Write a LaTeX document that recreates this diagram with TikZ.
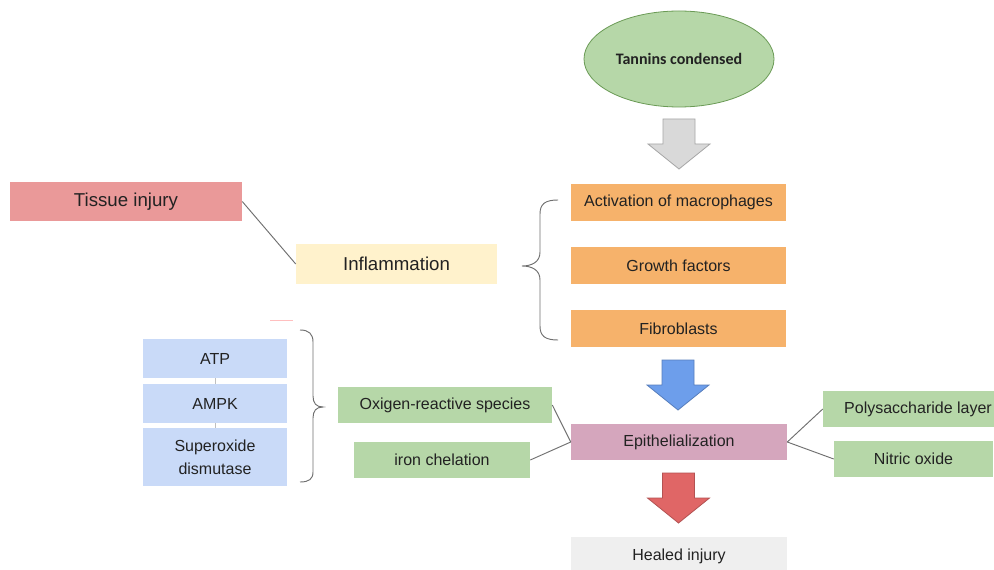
\documentclass[tikz,border=0pt]{standalone}
\usepackage{fontspec}
\setmainfont{Liberation Sans}
\newfontfamily\calibrifont{Carlito}
\usepackage{tikz}
\usetikzlibrary{shapes.geometric, positioning, calc}
\definecolor{LeafGreen}{HTML}{B6D7A8}
\definecolor{LeafEdge}{HTML}{6A9A55}
\definecolor{InjuryRed}{HTML}{EA9999}
\definecolor{CreamYellow}{HTML}{FFF2CC}
\definecolor{SoftOrange}{HTML}{F6B26B}
\definecolor{MauvePink}{HTML}{D5A6BD}
\definecolor{PaleBlue}{HTML}{C9DAF8}
\definecolor{PaleGray}{HTML}{EFEFEF}
\definecolor{ArrowGray}{HTML}{D9D9D9}
\definecolor{ArrowBlue}{HTML}{6D9EEB}
\definecolor{ArrowRed}{HTML}{E06666}
\definecolor{InkGray}{HTML}{222222}
\definecolor{LineGray}{HTML}{6F6F6F}

\tikzset{
    box/.style={rectangle, inner sep=0pt, text=InkGray, align=center,
                font=\fontsize{12}{17}\selectfont},
    bigbox/.style={box, font=\fontsize{14}{17}\selectfont},
    link/.style={draw=LineGray, line width=0.7pt},
    blockdown/.pic={
        \path[pic actions] (-16,0) -- (16,0) -- (16,25) -- (31,25)
            -- (0,50) -- (-31,25) -- (-16,25) -- cycle;
    }
}

\begin{document}
\begin{tikzpicture}[x=0.75pt, y=-0.75pt]
    \fill[white] (0,0) rectangle (994,570);
    \useasboundingbox (0,0) rectangle (994,570);

    % source
    \node[ellipse, draw=LeafEdge, line width=0.6pt, fill=LeafGreen, inner sep=0pt,
          minimum width=142.5pt, minimum height=72pt, text=InkGray,
          font=\calibrifont\bfseries\fontsize{12}{14}\selectfont] (tannins) at (679,59) {Tannins condensed};
    \pic[draw=gray!70, fill=ArrowGray, line width=0.6pt] at (679,119) {blockdown};

    % inflammatory phase
    \node[bigbox, fill=InjuryRed, minimum width=174pt, minimum height=29.25pt] (injury) at (126,201.5) {Tissue injury};
    \node[bigbox, fill=CreamYellow, minimum width=150.75pt, minimum height=30pt] (inflam) at (396.5,264) {Inflammation};
    \draw[link] (injury.east) -- (inflam.west);

    \node[box, fill=SoftOrange, minimum width=161.25pt, minimum height=27.75pt] (macro) at (678.5,202.5) {Activation of macrophages};
    \node[box, fill=SoftOrange, minimum width=161.25pt, minimum height=27.75pt] (growth) at (678.5,265.5) {Growth factors};
    \node[box, fill=SoftOrange, minimum width=161.25pt, minimum height=27.75pt] (fibro) at (678.5,328.5) {Fibroblasts};

    \draw[link] (558,200) .. controls (545,200) and (540,204) .. (540,214)
        -- (540,252) .. controls (540,262) and (532,266) .. (522,266)
        .. controls (532,266) and (540,270) .. (540,280)
        -- (540,326) .. controls (540,336) and (545,340) .. (558,340);

    \pic[draw=ArrowBlue!80!black, fill=ArrowBlue, line width=0.6pt] at (678,360) {blockdown};

    % antioxidant side
    \node[box, fill=PaleBlue, minimum width=108pt, minimum height=29.25pt] (atp) at (215,358.5) {ATP};
    \node[box, fill=PaleBlue, minimum width=108pt, minimum height=29.25pt] (ampk) at (215,403.5) {AMPK};
    \node[box, fill=PaleBlue, minimum width=108pt, minimum height=43.5pt] (sod) at (215,457) {Superoxide\\dismutase};
    \draw[link, draw=gray!50] (atp) -- (ampk);
    \draw[link, draw=gray!50] (ampk) -- (sod);
    \draw[red!25, line width=0.6pt] (270,320) -- (293,320);

    \draw[link] (300,330) .. controls (309,330) and (313,334) .. (313,342)
        -- (313,396) .. controls (313,403) and (316,407) .. (323,407)
        .. controls (316,407) and (313,411) .. (313,418)
        -- (313,472) .. controls (313,479) and (309,482) .. (300,482);

    % epithelial phase
    \node[box, fill=MauvePink, minimum width=162pt, minimum height=27pt] (epi) at (679,442) {Epithelialization};
    \node[box, fill=LeafGreen, minimum width=160.5pt, minimum height=27pt] (ros) at (445,405) {Oxigen-reactive species};
    \node[box, fill=LeafGreen, minimum width=132pt, minimum height=27pt] (iron) at (442,460) {iron chelation};
    \node[box, fill=LeafGreen, minimum width=142.5pt, minimum height=27pt] (poly) at (918,409) {Polysaccharide layer};
    \node[box, fill=LeafGreen, minimum width=119.25pt, minimum height=27pt] (nitric) at (913.5,459) {Nitric oxide};
    \draw[link] (ros.east) -- (epi.west);
    \draw[link] (iron.east) -- (epi.west);
    \draw[link] (epi.east) -- (poly.west);
    \draw[link] (epi.east) -- (nitric.west);

    \pic[draw=ArrowRed!80!black, fill=ArrowRed, line width=0.6pt] at (678.5,473) {blockdown};
    \node[box, fill=PaleGray, minimum width=162pt, minimum height=28.5pt] (healed) at (679,556) {Healed injury};
\end{tikzpicture}
\end{document}
